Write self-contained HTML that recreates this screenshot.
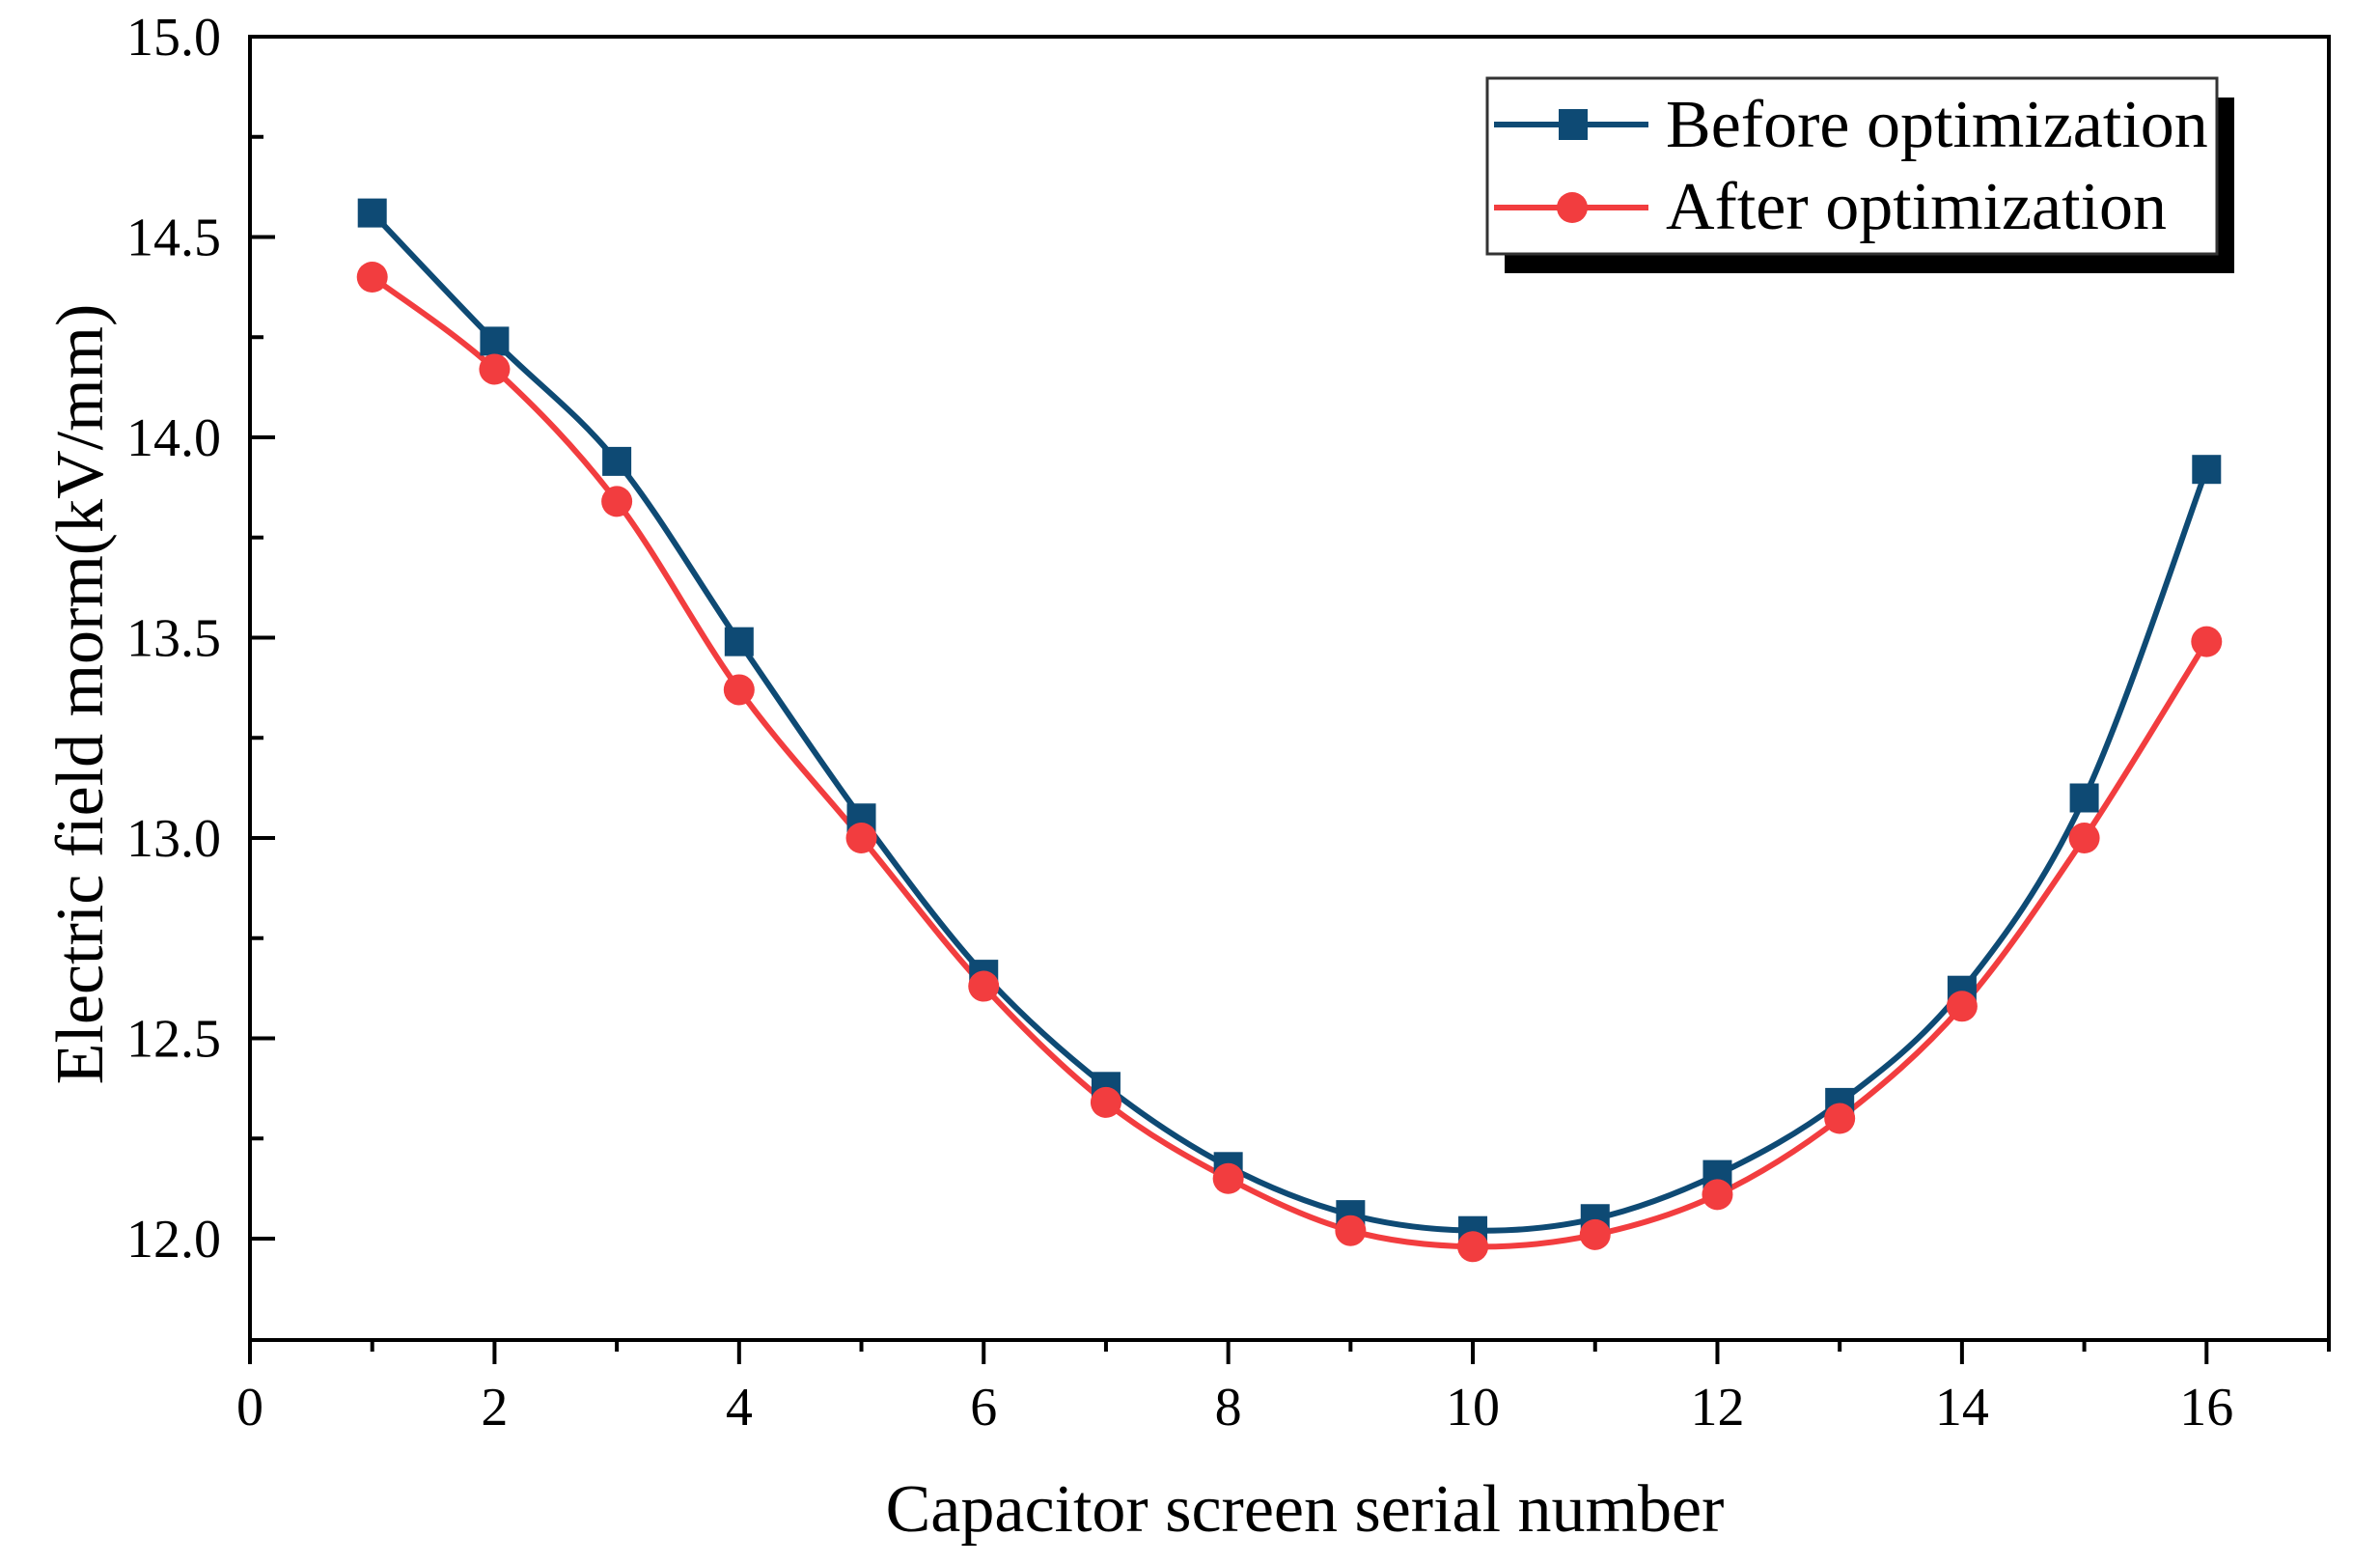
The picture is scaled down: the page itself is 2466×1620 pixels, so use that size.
<!DOCTYPE html>
<html><head><meta charset="utf-8"><style>
html,body{margin:0;padding:0;background:#fff;}
svg{display:block;font-family:"Liberation Serif",serif;}
</style></head><body>
<svg id="chart" width="2466" height="1620" viewBox="0 0 2466 1620">
<rect x="0" y="0" width="2466" height="1620" fill="#fff"/>
<g id="plot"></g>
</svg>
<script>
const categories=[1,2,3,4,5,6,7,8,9,10,11,12,13,14,15,16];
const beforeValues=[14.56,14.24,13.94,13.49,13.05,12.66,12.38,12.18,12.06,12.02,12.05,12.16,12.34,12.62,13.10,13.92];
const afterValues=[14.40,14.17,13.84,13.37,13.00,12.63,12.34,12.15,12.02,11.98,12.01,12.11,12.30,12.58,13.00,13.49];
const xTickLabels=[0,2,4,6,8,10,12,14,16];
const yTickLabels=["12.0","12.5","13.0","13.5","14.0","14.5","15.0"];

const L=259,R=2413,T=38,B=1388;
const xMin=0,xMax=17,yMin=12.0-(1388-1283)/415,yMax=15.0;
const sx=v=>L+(v-xMin)/(xMax-xMin)*(R-L);
const sy=v=>B-(v-yMin)/(yMax-yMin)*(B-T);
const NS="http://www.w3.org/2000/svg";
const g=document.getElementById('plot');
function mk(tag,attrs,parent){const e=document.createElementNS(NS,tag);for(const k in attrs)e.setAttribute(k,attrs[k]);(parent||g).appendChild(e);return e;}

const frame=mk('rect',{x:L,y:T,width:R-L,height:B-T,fill:'none',stroke:'#000','stroke-width':4});



for(let v=12.0;v<=15.001;v+=0.25){
  const major=Math.abs(v*2-Math.round(v*2))<1e-6;
  const t=mk('line',{x1:L,x2:L+(major?26:14),y1:sy(v),y2:sy(v),stroke:'#000','stroke-width':4});
  
  
}
yTickLabels.forEach(s=>{
  const t=mk('text',{x:229,y:sy(parseFloat(s))+19,'text-anchor':'end','font-size':56,fill:'#000'});
  t.textContent=s;
  
  
});
for(let v=0;v<=17;v++){
  const major=v%2===0;
  const t=mk('line',{x1:sx(v),x2:sx(v),y1:B,y2:B+(major?25:12),stroke:'#000','stroke-width':4});
  
  
}
xTickLabels.forEach(v=>{
  const t=mk('text',{x:sx(v),y:1476,'text-anchor':'middle','font-size':56,fill:'#000'});
  t.textContent=v;
  
  
});
const xt=mk('text',{x:1352,y:1586,'text-anchor':'middle','font-size':70,fill:'#000'});
xt.textContent='Capacitor screen serial number';


const yt=mk('text',{x:0,y:0,'text-anchor':'middle','font-size':70,fill:'#000',transform:'translate(106,719) rotate(-90)'});
yt.textContent='Electric field morm(kV/mm)';



function smoothPath(xs,ys){
  const p=xs.map((x,i)=>[sx(x),sy(ys[i])]);
  let d=`M${p[0][0]},${p[0][1]}`;
  for(let i=0;i<p.length-1;i++){
    const p0=p[Math.max(0,i-1)],p1=p[i],p2=p[i+1],p3=p[Math.min(p.length-1,i+2)];
    const c1=[p1[0]+(p2[0]-p0[0])/6,p1[1]+(p2[1]-p0[1])/6];
    const c2=[p2[0]-(p3[0]-p1[0])/6,p2[1]-(p3[1]-p1[1])/6];
    d+=` C${c1[0]},${c1[1]} ${c2[0]},${c2[1]} ${p2[0]},${p2[1]}`;
  }
  return d;
}
const BLUE='#0e4a74',RED='#f23d3f';
const lb=mk('path',{d:smoothPath(categories,beforeValues),fill:'none',stroke:BLUE,'stroke-width':6});


const la=mk('path',{d:smoothPath(categories,afterValues),fill:'none',stroke:RED,'stroke-width':6});


categories.forEach((c,i)=>{
  const s=mk('rect',{x:sx(c)-15,y:sy(beforeValues[i])-15,width:30,height:30,fill:BLUE});
  
  
});
categories.forEach((c,i)=>{
  const s=mk('circle',{cx:sx(c),cy:sy(afterValues[i]),r:16,fill:RED});
  
  
});

const lg=mk('g',{});


mk('rect',{x:1559,y:101,width:756,height:182,fill:'#000'},lg);
mk('rect',{x:1541,y:81,width:756,height:182,fill:'#fff',stroke:'#333','stroke-width':3},lg);
const e1=mk('g',{},lg);


mk('line',{x1:1548,x2:1708,y1:129,y2:129,stroke:BLUE,'stroke-width':6},e1);
mk('rect',{x:1615,y:113,width:30,height:32,fill:BLUE},e1);
const t1=mk('text',{x:1726,y:152,'font-size':70,fill:'#000'},e1);t1.textContent='Before optimization';
const e2=mk('g',{},lg);


mk('line',{x1:1548,x2:1708,y1:215,y2:215,stroke:RED,'stroke-width':6},e2);
mk('circle',{cx:1629,cy:215,r:16,fill:RED},e2);
const t2=mk('text',{x:1726,y:237,'font-size':70,fill:'#000'},e2);t2.textContent='After optimization';
</script>
</body></html>
